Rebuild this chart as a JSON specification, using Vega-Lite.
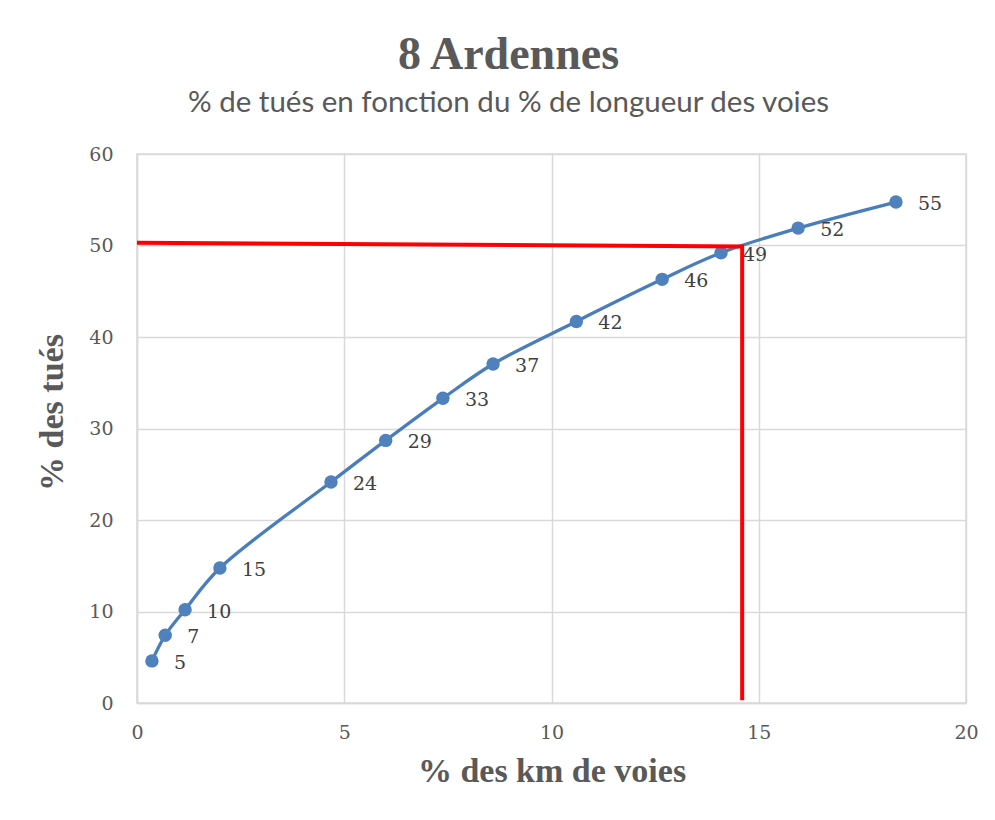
{
  "$schema": "https://vega.github.io/schema/vega-lite/v6.json",
  "autosize": "none",
  "width": 829,
  "height": 549,
  "padding": {"left": 137, "top": 154, "right": 29, "bottom": 117},
  "background": "white",
  "title": {
    "text": "8 Ardennes",
    "subtitle": "% de tués en fonction du % de longueur des voies",
    "anchor": "middle",
    "frame": "group",
    "dx": -43,
    "offset": 27,
    "font": "Liberation Serif",
    "fontSize": 46,
    "fontWeight": "bold",
    "color": "#595959",
    "subtitleFont": "Lato",
    "subtitleFontSize": 29.5,
    "subtitleColor": "#595959",
    "subtitlePadding": 10
  },
  "config": {
    "view": {"stroke": "#d9d9d9", "strokeWidth": 1.5},
    "axis": {
      "gridColor": "#d9d9d9",
      "gridWidth": 1.5,
      "domainColor": "#d9d9d9",
      "domainWidth": 1.5,
      "ticks": false,
      "labelFlush": false,
      "labelFont": "DejaVu Serif",
      "labelFontSize": 19,
      "labelColor": "#595959",
      "titleFont": "Liberation Serif",
      "titleFontSize": 34,
      "titleFontWeight": "bold",
      "titleColor": "#595959"
    }
  },
  "datasets": {
    "pts": [
      {"km": 0.36, "tues": 4.6, "label": "5"},
      {"km": 0.68, "tues": 7.4, "label": "7"},
      {"km": 1.16, "tues": 10.2, "label": "10"},
      {"km": 2.0, "tues": 14.75, "label": "15"},
      {"km": 4.68, "tues": 24.15, "label": "24"},
      {"km": 6.0, "tues": 28.7, "label": "29"},
      {"km": 7.38, "tues": 33.3, "label": "33"},
      {"km": 8.59, "tues": 37.05, "label": "37"},
      {"km": 10.6, "tues": 41.7, "label": "42"},
      {"km": 12.67, "tues": 46.3, "label": "46"},
      {"km": 14.09, "tues": 49.2, "label": "49"},
      {"km": 15.95, "tues": 51.9, "label": "52"},
      {"km": 18.31, "tues": 54.75, "label": "55"}
    ],
    "red": [
      {"km": 0, "tues": 50.3, "order": 1},
      {"km": 14.6, "tues": 49.9, "order": 2},
      {"km": 14.6, "tues": 0.3, "order": 3}
    ]
  },
  "layer": [
    {
      "data": {"name": "pts"},
      "mark": {"type": "line", "interpolate": "catmull-rom", "color": "#4a7ebb", "strokeWidth": 3.3},
      "encoding": {
        "x": {"field": "km", "type": "quantitative", "scale": {"domain": [0, 20]},
              "axis": {"values": [0, 5, 10, 15, 20], "title": "% des km de voies", "labelPadding": 20, "titlePadding": 12}},
        "y": {"field": "tues", "type": "quantitative", "scale": {"domain": [0, 60]},
              "axis": {"values": [0, 10, 20, 30, 40, 50, 60], "title": "% des tués", "labelPadding": 24,
                       "titleX": -85, "titleY": 258, "titleBaseline": "middle", "titleAlign": "center", "titleAngle": -90}}
      }
    },
    {
      "data": {"name": "pts"},
      "mark": {"type": "point", "filled": true, "opacity": 1, "size": 180, "color": "#4f81bd"},
      "encoding": {
        "x": {"field": "km", "type": "quantitative"},
        "y": {"field": "tues", "type": "quantitative"}
      }
    },
    {
      "data": {"name": "pts"},
      "mark": {"type": "text", "align": "left", "baseline": "middle", "dx": 22, "dy": 2, "font": "DejaVu Serif", "fontSize": 19, "color": "#404040"},
      "encoding": {
        "x": {"field": "km", "type": "quantitative"},
        "y": {"field": "tues", "type": "quantitative"},
        "text": {"field": "label"}
      }
    },
    {
      "data": {"name": "red"},
      "mark": {"type": "line", "color": "#ff0000", "strokeWidth": 4, "strokeJoin": "miter"},
      "encoding": {
        "x": {"field": "km", "type": "quantitative"},
        "y": {"field": "tues", "type": "quantitative"},
        "order": {"field": "order"}
      }
    }
  ]
}
